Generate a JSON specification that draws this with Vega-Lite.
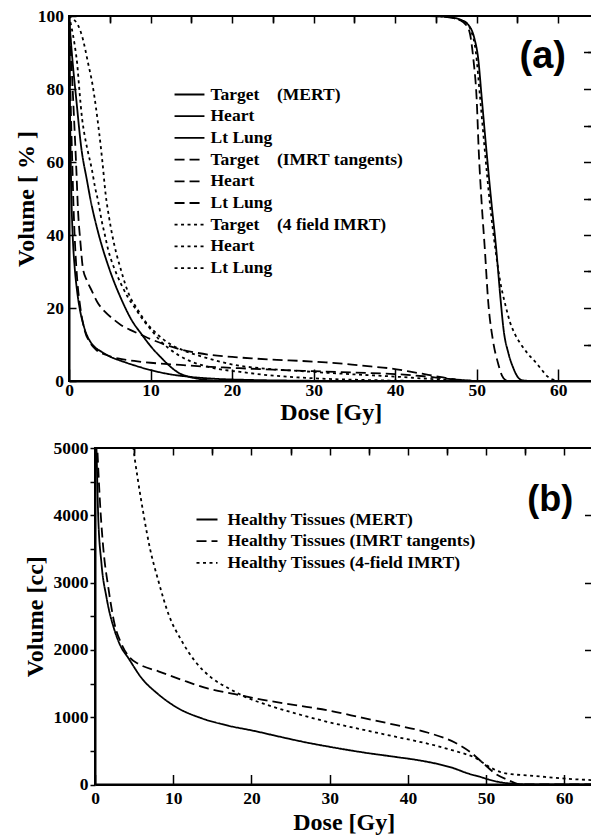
{
  "$schema": "https://vega.github.io/schema/vega-lite/v6.json",
  "background": "white",
  "padding": {"left": 13, "top": 6, "right": 0, "bottom": 0},
  "config": {
    "font": "Liberation Serif",
    "view": {"stroke": "black", "strokeWidth": 2},
    "axis": {
      "labelFont": "Liberation Serif", "labelFontWeight": "bold", "labelFontSize": 17.5, "labelColor": "black",
      "titleFont": "Liberation Serif", "titleFontWeight": "bold", "titleFontSize": 24, "titleColor": "black",
      "domainColor": "black", "domainWidth": 2, "tickColor": "black", "tickWidth": 1.5,
      "grid": false, "labelOverlap": false, "labelFlush": false
    },
    "line": {"color": "black", "strokeWidth": 1.8}
  },
  "spacing": 67,
  "bounds": "flush",
  "resolve": {"scale": {"strokeDash": "independent"}, "legend": {"strokeDash": "independent"}},
  "datasets": {
    "a": [
      {"series":"Target (MERT)","dose":0,"volume":100},{"series":"Target (MERT)","dose":44,"volume":100},{"series":"Target (MERT)","dose":46.5,"volume":99.7},{"series":"Target (MERT)","dose":48,"volume":99},{"series":"Target (MERT)","dose":49,"volume":97.5},{"series":"Target (MERT)","dose":49.7,"volume":94},{"series":"Target (MERT)","dose":50.2,"volume":88},{"series":"Target (MERT)","dose":50.6,"volume":78},{"series":"Target (MERT)","dose":51.2,"volume":63},{"series":"Target (MERT)","dose":51.8,"volume":49},{"series":"Target (MERT)","dose":52.4,"volume":36},{"series":"Target (MERT)","dose":52.9,"volume":23},{"series":"Target (MERT)","dose":53.3,"volume":14},{"series":"Target (MERT)","dose":53.9,"volume":7.5},{"series":"Target (MERT)","dose":54.5,"volume":3.5},{"series":"Target (MERT)","dose":55,"volume":1.2},{"series":"Target (MERT)","dose":55.6,"volume":0.2},{"series":"Target (MERT)","dose":57,"volume":0},{"series":"Target (MERT)","dose":64.2,"volume":0},
      {"series":"Heart (MERT)","dose":0,"volume":100},{"series":"Heart (MERT)","dose":0.05,"volume":90},{"series":"Heart (MERT)","dose":0.12,"volume":75},{"series":"Heart (MERT)","dose":0.2,"volume":62},{"series":"Heart (MERT)","dose":0.3,"volume":50},{"series":"Heart (MERT)","dose":0.45,"volume":40},{"series":"Heart (MERT)","dose":0.7,"volume":31},{"series":"Heart (MERT)","dose":1,"volume":24.5},{"series":"Heart (MERT)","dose":1.3,"volume":20},{"series":"Heart (MERT)","dose":1.7,"volume":16},{"series":"Heart (MERT)","dose":2.15,"volume":12.8},{"series":"Heart (MERT)","dose":2.7,"volume":10.5},{"series":"Heart (MERT)","dose":3.2,"volume":9.2},{"series":"Heart (MERT)","dose":4,"volume":8},{"series":"Heart (MERT)","dose":5.2,"volume":6.5},{"series":"Heart (MERT)","dose":6.4,"volume":5.5},{"series":"Heart (MERT)","dose":8,"volume":4.3},{"series":"Heart (MERT)","dose":10,"volume":3},{"series":"Heart (MERT)","dose":12,"volume":2},{"series":"Heart (MERT)","dose":15,"volume":1.1},{"series":"Heart (MERT)","dose":18,"volume":0.6},{"series":"Heart (MERT)","dose":22,"volume":0.3},{"series":"Heart (MERT)","dose":28,"volume":0.1},{"series":"Heart (MERT)","dose":35,"volume":0},{"series":"Heart (MERT)","dose":64.2,"volume":0},
      {"series":"Lt Lung (MERT)","dose":0,"volume":100},{"series":"Lt Lung (MERT)","dose":0.2,"volume":94},{"series":"Lt Lung (MERT)","dose":0.5,"volume":86},{"series":"Lt Lung (MERT)","dose":0.9,"volume":77},{"series":"Lt Lung (MERT)","dose":1.5,"volume":64},{"series":"Lt Lung (MERT)","dose":2.2,"volume":55},{"series":"Lt Lung (MERT)","dose":2.7,"volume":49},{"series":"Lt Lung (MERT)","dose":3.6,"volume":40.5},{"series":"Lt Lung (MERT)","dose":4.9,"volume":31},{"series":"Lt Lung (MERT)","dose":6.5,"volume":22},{"series":"Lt Lung (MERT)","dose":7.6,"volume":17},{"series":"Lt Lung (MERT)","dose":8.9,"volume":12.8},{"series":"Lt Lung (MERT)","dose":10.1,"volume":9.3},{"series":"Lt Lung (MERT)","dose":11.3,"volume":6.4},{"series":"Lt Lung (MERT)","dose":12.4,"volume":4},{"series":"Lt Lung (MERT)","dose":13.4,"volume":2.3},{"series":"Lt Lung (MERT)","dose":15,"volume":1},{"series":"Lt Lung (MERT)","dose":16.5,"volume":0.4},{"series":"Lt Lung (MERT)","dose":18,"volume":0.1},{"series":"Lt Lung (MERT)","dose":20,"volume":0},{"series":"Lt Lung (MERT)","dose":64.2,"volume":0},
      {"series":"Target (IMRT tangents)","dose":0,"volume":100},{"series":"Target (IMRT tangents)","dose":44,"volume":100},{"series":"Target (IMRT tangents)","dose":46.5,"volume":99.7},{"series":"Target (IMRT tangents)","dose":48,"volume":98.8},{"series":"Target (IMRT tangents)","dose":49,"volume":96.5},{"series":"Target (IMRT tangents)","dose":49.6,"volume":88},{"series":"Target (IMRT tangents)","dose":50,"volume":77},{"series":"Target (IMRT tangents)","dose":50.25,"volume":63},{"series":"Target (IMRT tangents)","dose":50.6,"volume":49},{"series":"Target (IMRT tangents)","dose":51,"volume":36},{"series":"Target (IMRT tangents)","dose":51.4,"volume":22},{"series":"Target (IMRT tangents)","dose":52,"volume":11},{"series":"Target (IMRT tangents)","dose":52.6,"volume":5},{"series":"Target (IMRT tangents)","dose":53.1,"volume":1.5},{"series":"Target (IMRT tangents)","dose":53.6,"volume":0.2},{"series":"Target (IMRT tangents)","dose":54.5,"volume":0},{"series":"Target (IMRT tangents)","dose":64.2,"volume":0},
      {"series":"Heart (IMRT tangents)","dose":0,"volume":100},{"series":"Heart (IMRT tangents)","dose":0.1,"volume":88},{"series":"Heart (IMRT tangents)","dose":0.25,"volume":72},{"series":"Heart (IMRT tangents)","dose":0.4,"volume":60},{"series":"Heart (IMRT tangents)","dose":0.55,"volume":48},{"series":"Heart (IMRT tangents)","dose":0.75,"volume":37},{"series":"Heart (IMRT tangents)","dose":1,"volume":28},{"series":"Heart (IMRT tangents)","dose":1.4,"volume":20},{"series":"Heart (IMRT tangents)","dose":1.9,"volume":14},{"series":"Heart (IMRT tangents)","dose":2.6,"volume":10.5},{"series":"Heart (IMRT tangents)","dose":3.3,"volume":8.6},{"series":"Heart (IMRT tangents)","dose":4.5,"volume":7.2},{"series":"Heart (IMRT tangents)","dose":6,"volume":6.2},{"series":"Heart (IMRT tangents)","dose":8,"volume":5.5},{"series":"Heart (IMRT tangents)","dose":10,"volume":5},{"series":"Heart (IMRT tangents)","dose":13,"volume":4.5},{"series":"Heart (IMRT tangents)","dose":16.3,"volume":4},{"series":"Heart (IMRT tangents)","dose":20,"volume":3.6},{"series":"Heart (IMRT tangents)","dose":25,"volume":3.1},{"series":"Heart (IMRT tangents)","dose":30,"volume":2.7},{"series":"Heart (IMRT tangents)","dose":35,"volume":2.3},{"series":"Heart (IMRT tangents)","dose":40,"volume":1.9},{"series":"Heart (IMRT tangents)","dose":43.5,"volume":1.3},{"series":"Heart (IMRT tangents)","dose":46,"volume":0.7},{"series":"Heart (IMRT tangents)","dose":48,"volume":0.3},{"series":"Heart (IMRT tangents)","dose":50,"volume":0},{"series":"Heart (IMRT tangents)","dose":64.2,"volume":0},
      {"series":"Lt Lung (IMRT tangents)","dose":0,"volume":100},{"series":"Lt Lung (IMRT tangents)","dose":0.2,"volume":92},{"series":"Lt Lung (IMRT tangents)","dose":0.45,"volume":80},{"series":"Lt Lung (IMRT tangents)","dose":0.7,"volume":68},{"series":"Lt Lung (IMRT tangents)","dose":0.9,"volume":58},{"series":"Lt Lung (IMRT tangents)","dose":1.1,"volume":47},{"series":"Lt Lung (IMRT tangents)","dose":1.4,"volume":38},{"series":"Lt Lung (IMRT tangents)","dose":1.7,"volume":31},{"series":"Lt Lung (IMRT tangents)","dose":2.2,"volume":27.5},{"series":"Lt Lung (IMRT tangents)","dose":2.8,"volume":24.7},{"series":"Lt Lung (IMRT tangents)","dose":3.5,"volume":21.5},{"series":"Lt Lung (IMRT tangents)","dose":4.4,"volume":19},{"series":"Lt Lung (IMRT tangents)","dose":5.4,"volume":17},{"series":"Lt Lung (IMRT tangents)","dose":6.4,"volume":15.3},{"series":"Lt Lung (IMRT tangents)","dose":7.5,"volume":14},{"series":"Lt Lung (IMRT tangents)","dose":8.9,"volume":12.6},{"series":"Lt Lung (IMRT tangents)","dose":10.1,"volume":11.4},{"series":"Lt Lung (IMRT tangents)","dose":12,"volume":9.8},{"series":"Lt Lung (IMRT tangents)","dose":13.8,"volume":8.6},{"series":"Lt Lung (IMRT tangents)","dose":15.5,"volume":7.8},{"series":"Lt Lung (IMRT tangents)","dose":17.5,"volume":7.1},{"series":"Lt Lung (IMRT tangents)","dose":20,"volume":6.6},{"series":"Lt Lung (IMRT tangents)","dose":22.4,"volume":6.2},{"series":"Lt Lung (IMRT tangents)","dose":25.5,"volume":5.8},{"series":"Lt Lung (IMRT tangents)","dose":28.5,"volume":5.5},{"series":"Lt Lung (IMRT tangents)","dose":31.5,"volume":5.1},{"series":"Lt Lung (IMRT tangents)","dose":34.7,"volume":4.5},{"series":"Lt Lung (IMRT tangents)","dose":37,"volume":4},{"series":"Lt Lung (IMRT tangents)","dose":39.6,"volume":3.4},{"series":"Lt Lung (IMRT tangents)","dose":41.5,"volume":2.7},{"series":"Lt Lung (IMRT tangents)","dose":43.3,"volume":2},{"series":"Lt Lung (IMRT tangents)","dose":45,"volume":1.3},{"series":"Lt Lung (IMRT tangents)","dose":46.9,"volume":0.6},{"series":"Lt Lung (IMRT tangents)","dose":48.5,"volume":0.2},{"series":"Lt Lung (IMRT tangents)","dose":50,"volume":0},{"series":"Lt Lung (IMRT tangents)","dose":64.2,"volume":0},
      {"series":"Target (4 field IMRT)","dose":0,"volume":100},{"series":"Target (4 field IMRT)","dose":44,"volume":100},{"series":"Target (4 field IMRT)","dose":46,"volume":99.8},{"series":"Target (4 field IMRT)","dose":47.5,"volume":99.2},{"series":"Target (4 field IMRT)","dose":48.5,"volume":98.5},{"series":"Target (4 field IMRT)","dose":49.3,"volume":96},{"series":"Target (4 field IMRT)","dose":49.9,"volume":90},{"series":"Target (4 field IMRT)","dose":50.4,"volume":78},{"series":"Target (4 field IMRT)","dose":51,"volume":63},{"series":"Target (4 field IMRT)","dose":51.6,"volume":49},{"series":"Target (4 field IMRT)","dose":52.3,"volume":36},{"series":"Target (4 field IMRT)","dose":52.9,"volume":27},{"series":"Target (4 field IMRT)","dose":53.5,"volume":21},{"series":"Target (4 field IMRT)","dose":54.1,"volume":16},{"series":"Target (4 field IMRT)","dose":54.7,"volume":12.8},{"series":"Target (4 field IMRT)","dose":55.5,"volume":9.8},{"series":"Target (4 field IMRT)","dose":56.3,"volume":7.4},{"series":"Target (4 field IMRT)","dose":57.2,"volume":5.2},{"series":"Target (4 field IMRT)","dose":58,"volume":3},{"series":"Target (4 field IMRT)","dose":58.7,"volume":1.2},{"series":"Target (4 field IMRT)","dose":59.5,"volume":0.3},{"series":"Target (4 field IMRT)","dose":60.5,"volume":0},{"series":"Target (4 field IMRT)","dose":64.2,"volume":0},
      {"series":"Heart (4 field IMRT)","dose":0,"volume":100},{"series":"Heart (4 field IMRT)","dose":0.3,"volume":97},{"series":"Heart (4 field IMRT)","dose":0.7,"volume":92},{"series":"Heart (4 field IMRT)","dose":1,"volume":87},{"series":"Heart (4 field IMRT)","dose":1.3,"volume":79},{"series":"Heart (4 field IMRT)","dose":1.6,"volume":72},{"series":"Heart (4 field IMRT)","dose":1.9,"volume":67.5},{"series":"Heart (4 field IMRT)","dose":2.3,"volume":63},{"series":"Heart (4 field IMRT)","dose":2.8,"volume":58},{"series":"Heart (4 field IMRT)","dose":3.2,"volume":53},{"series":"Heart (4 field IMRT)","dose":3.6,"volume":49},{"series":"Heart (4 field IMRT)","dose":4,"volume":44},{"series":"Heart (4 field IMRT)","dose":4.4,"volume":40},{"series":"Heart (4 field IMRT)","dose":4.8,"volume":36},{"series":"Heart (4 field IMRT)","dose":5.2,"volume":33},{"series":"Heart (4 field IMRT)","dose":5.8,"volume":29.5},{"series":"Heart (4 field IMRT)","dose":6.4,"volume":26.5},{"series":"Heart (4 field IMRT)","dose":7.2,"volume":23},{"series":"Heart (4 field IMRT)","dose":8.1,"volume":20},{"series":"Heart (4 field IMRT)","dose":9,"volume":17},{"series":"Heart (4 field IMRT)","dose":9.9,"volume":14.5},{"series":"Heart (4 field IMRT)","dose":11,"volume":11.5},{"series":"Heart (4 field IMRT)","dose":12.2,"volume":9},{"series":"Heart (4 field IMRT)","dose":13.5,"volume":7},{"series":"Heart (4 field IMRT)","dose":15,"volume":5.3},{"series":"Heart (4 field IMRT)","dose":16.5,"volume":4.2},{"series":"Heart (4 field IMRT)","dose":18,"volume":3.4},{"series":"Heart (4 field IMRT)","dose":21,"volume":2.5},{"series":"Heart (4 field IMRT)","dose":24.4,"volume":1.6},{"series":"Heart (4 field IMRT)","dose":28,"volume":1},{"series":"Heart (4 field IMRT)","dose":32.6,"volume":0.5},{"series":"Heart (4 field IMRT)","dose":36,"volume":0.3},{"series":"Heart (4 field IMRT)","dose":40,"volume":0.1},{"series":"Heart (4 field IMRT)","dose":45,"volume":0},{"series":"Heart (4 field IMRT)","dose":64.2,"volume":0},
      {"series":"Lt Lung (4 field IMRT)","dose":0,"volume":100},{"series":"Lt Lung (4 field IMRT)","dose":0.5,"volume":99.2},{"series":"Lt Lung (4 field IMRT)","dose":1.1,"volume":97.5},{"series":"Lt Lung (4 field IMRT)","dose":1.6,"volume":94.5},{"series":"Lt Lung (4 field IMRT)","dose":2.35,"volume":87},{"series":"Lt Lung (4 field IMRT)","dose":2.9,"volume":81},{"series":"Lt Lung (4 field IMRT)","dose":3.3,"volume":75},{"series":"Lt Lung (4 field IMRT)","dose":3.7,"volume":68},{"series":"Lt Lung (4 field IMRT)","dose":4.1,"volume":60},{"series":"Lt Lung (4 field IMRT)","dose":4.5,"volume":51},{"series":"Lt Lung (4 field IMRT)","dose":4.9,"volume":45},{"series":"Lt Lung (4 field IMRT)","dose":5.3,"volume":40},{"series":"Lt Lung (4 field IMRT)","dose":5.8,"volume":35},{"series":"Lt Lung (4 field IMRT)","dose":6.3,"volume":31},{"series":"Lt Lung (4 field IMRT)","dose":6.9,"volume":26.5},{"series":"Lt Lung (4 field IMRT)","dose":7.5,"volume":23},{"series":"Lt Lung (4 field IMRT)","dose":8.3,"volume":20},{"series":"Lt Lung (4 field IMRT)","dose":9.3,"volume":16.5},{"series":"Lt Lung (4 field IMRT)","dose":10.5,"volume":13.5},{"series":"Lt Lung (4 field IMRT)","dose":12.2,"volume":10.4},{"series":"Lt Lung (4 field IMRT)","dose":14,"volume":8.4},{"series":"Lt Lung (4 field IMRT)","dose":16.3,"volume":6.7},{"series":"Lt Lung (4 field IMRT)","dose":18.5,"volume":5.3},{"series":"Lt Lung (4 field IMRT)","dose":20.3,"volume":4.4},{"series":"Lt Lung (4 field IMRT)","dose":24,"volume":3.4},{"series":"Lt Lung (4 field IMRT)","dose":28.5,"volume":2.7},{"series":"Lt Lung (4 field IMRT)","dose":32,"volume":2.2},{"series":"Lt Lung (4 field IMRT)","dose":36.7,"volume":1.6},{"series":"Lt Lung (4 field IMRT)","dose":40,"volume":1.2},{"series":"Lt Lung (4 field IMRT)","dose":44.9,"volume":0.5},{"series":"Lt Lung (4 field IMRT)","dose":48,"volume":0.2},{"series":"Lt Lung (4 field IMRT)","dose":50,"volume":0},{"series":"Lt Lung (4 field IMRT)","dose":64.2,"volume":0}
    ],
    "b": [
      {"plan":"Healthy Tissues (MERT)","dose":0.05,"volume":5600},{"plan":"Healthy Tissues (MERT)","dose":0.2,"volume":4950},{"plan":"Healthy Tissues (MERT)","dose":0.4,"volume":4020},{"plan":"Healthy Tissues (MERT)","dose":0.83,"volume":3280},{"plan":"Healthy Tissues (MERT)","dose":1.47,"volume":2780},{"plan":"Healthy Tissues (MERT)","dose":2.5,"volume":2290},{"plan":"Healthy Tissues (MERT)","dose":3.3,"volume":2050},{"plan":"Healthy Tissues (MERT)","dose":4.2,"volume":1890},{"plan":"Healthy Tissues (MERT)","dose":5.9,"volume":1590},{"plan":"Healthy Tissues (MERT)","dose":8.1,"volume":1340},{"plan":"Healthy Tissues (MERT)","dose":10.6,"volume":1135},{"plan":"Healthy Tissues (MERT)","dose":13.6,"volume":985},{"plan":"Healthy Tissues (MERT)","dose":17,"volume":875},{"plan":"Healthy Tissues (MERT)","dose":20.4,"volume":795},{"plan":"Healthy Tissues (MERT)","dose":24,"volume":700},{"plan":"Healthy Tissues (MERT)","dose":27,"volume":625},{"plan":"Healthy Tissues (MERT)","dose":30,"volume":560},{"plan":"Healthy Tissues (MERT)","dose":34.1,"volume":480},{"plan":"Healthy Tissues (MERT)","dose":38.4,"volume":410},{"plan":"Healthy Tissues (MERT)","dose":41.4,"volume":360},{"plan":"Healthy Tissues (MERT)","dose":44,"volume":300},{"plan":"Healthy Tissues (MERT)","dose":45.5,"volume":255},{"plan":"Healthy Tissues (MERT)","dose":47.8,"volume":160},{"plan":"Healthy Tissues (MERT)","dose":49.2,"volume":115},{"plan":"Healthy Tissues (MERT)","dose":50.3,"volume":75},{"plan":"Healthy Tissues (MERT)","dose":52,"volume":30},{"plan":"Healthy Tissues (MERT)","dose":54,"volume":8},{"plan":"Healthy Tissues (MERT)","dose":56,"volume":0},{"plan":"Healthy Tissues (MERT)","dose":63.6,"volume":0},
      {"plan":"Healthy Tissues (IMRT tangents)","dose":0.1,"volume":5600},{"plan":"Healthy Tissues (IMRT tangents)","dose":0.3,"volume":5000},{"plan":"Healthy Tissues (IMRT tangents)","dose":0.6,"volume":4270},{"plan":"Healthy Tissues (IMRT tangents)","dose":1.05,"volume":3525},{"plan":"Healthy Tissues (IMRT tangents)","dose":1.7,"volume":2930},{"plan":"Healthy Tissues (IMRT tangents)","dose":2.5,"volume":2384},{"plan":"Healthy Tissues (IMRT tangents)","dose":3.4,"volume":2085},{"plan":"Healthy Tissues (IMRT tangents)","dose":4.45,"volume":1885},{"plan":"Healthy Tissues (IMRT tangents)","dose":5.7,"volume":1784},{"plan":"Healthy Tissues (IMRT tangents)","dose":8.1,"volume":1682},{"plan":"Healthy Tissues (IMRT tangents)","dose":11.1,"volume":1554},{"plan":"Healthy Tissues (IMRT tangents)","dose":14.5,"volume":1423},{"plan":"Healthy Tissues (IMRT tangents)","dose":17.9,"volume":1342},{"plan":"Healthy Tissues (IMRT tangents)","dose":21.3,"volume":1262},{"plan":"Healthy Tissues (IMRT tangents)","dose":25.6,"volume":1180},{"plan":"Healthy Tissues (IMRT tangents)","dose":29.9,"volume":1098},{"plan":"Healthy Tissues (IMRT tangents)","dose":34.1,"volume":993},{"plan":"Healthy Tissues (IMRT tangents)","dose":38.4,"volume":885},{"plan":"Healthy Tissues (IMRT tangents)","dose":42.6,"volume":769},{"plan":"Healthy Tissues (IMRT tangents)","dose":46,"volume":624},{"plan":"Healthy Tissues (IMRT tangents)","dose":48.1,"volume":472},{"plan":"Healthy Tissues (IMRT tangents)","dose":49.6,"volume":320},{"plan":"Healthy Tissues (IMRT tangents)","dose":51.1,"volume":168},{"plan":"Healthy Tissues (IMRT tangents)","dose":52.8,"volume":67},{"plan":"Healthy Tissues (IMRT tangents)","dose":54,"volume":10},{"plan":"Healthy Tissues (IMRT tangents)","dose":55,"volume":0},{"plan":"Healthy Tissues (IMRT tangents)","dose":63.6,"volume":0},
      {"plan":"Healthy Tissues (4-field IMRT)","dose":4.5,"volume":5500},{"plan":"Healthy Tissues (4-field IMRT)","dose":4.9,"volume":5015},{"plan":"Healthy Tissues (4-field IMRT)","dose":5.5,"volume":4515},{"plan":"Healthy Tissues (4-field IMRT)","dose":6.2,"volume":4019},{"plan":"Healthy Tissues (4-field IMRT)","dose":7,"volume":3522},{"plan":"Healthy Tissues (4-field IMRT)","dose":8.1,"volume":3027},{"plan":"Healthy Tissues (4-field IMRT)","dose":9.4,"volume":2530},{"plan":"Healthy Tissues (4-field IMRT)","dose":11.1,"volume":2130},{"plan":"Healthy Tissues (4-field IMRT)","dose":12.8,"volume":1830},{"plan":"Healthy Tissues (4-field IMRT)","dose":14.9,"volume":1585},{"plan":"Healthy Tissues (4-field IMRT)","dose":17,"volume":1434},{"plan":"Healthy Tissues (4-field IMRT)","dose":19.6,"volume":1283},{"plan":"Healthy Tissues (4-field IMRT)","dose":22.1,"volume":1180},{"plan":"Healthy Tissues (4-field IMRT)","dose":25.6,"volume":1057},{"plan":"Healthy Tissues (4-field IMRT)","dose":29.9,"volume":926},{"plan":"Healthy Tissues (4-field IMRT)","dose":34.1,"volume":818},{"plan":"Healthy Tissues (4-field IMRT)","dose":38.4,"volume":710},{"plan":"Healthy Tissues (4-field IMRT)","dose":42.6,"volume":605},{"plan":"Healthy Tissues (4-field IMRT)","dose":46,"volume":498},{"plan":"Healthy Tissues (4-field IMRT)","dose":48.6,"volume":396},{"plan":"Healthy Tissues (4-field IMRT)","dose":50.3,"volume":269},{"plan":"Healthy Tissues (4-field IMRT)","dose":52,"volume":178},{"plan":"Healthy Tissues (4-field IMRT)","dose":53.5,"volume":150},{"plan":"Healthy Tissues (4-field IMRT)","dose":55.4,"volume":135},{"plan":"Healthy Tissues (4-field IMRT)","dose":59.7,"volume":90},{"plan":"Healthy Tissues (4-field IMRT)","dose":63.6,"volume":65}
    ]
  },
  "vconcat": [
    {
      "width": 523.5,
      "height": 365,
      "layer": [
        {
          "data": {"name": "a"},
          "mark": {"type": "line", "interpolate": "monotone", "clip": true, "color": "black", "strokeWidth": 1.8},
          "encoding": {
            "x": {"field": "dose", "type": "quantitative", "scale": {"domain": [0, 64.2], "nice": false, "zero": false},
                  "axis": {"title": "Dose [Gy]", "values": [0,10,20,30,40,50,60], "format": "d", "tickSize": -12, "labelPadding": 12, "titleY": 31.5, "titleBaseline": "middle"}},
            "y": {"field": "volume", "type": "quantitative", "scale": {"domain": [0, 100], "nice": false},
                  "axis": {"title": "Volume [ % ]", "values": [0,20,40,60,80,100], "format": "d", "tickSize": -7, "labelPadding": 12.5, "titleX": -42.5, "titleBaseline": "middle"}},
            "strokeDash": {"field": "series", "type": "nominal",
              "scale": {"domain": ["Target (MERT)","Heart (MERT)","Lt Lung (MERT)","Target (IMRT tangents)","Heart (IMRT tangents)","Lt Lung (IMRT tangents)","Target (4 field IMRT)","Heart (4 field IMRT)","Lt Lung (4 field IMRT)"],
                        "range": [[1,0],[1,0],[1,0],[10,5],[10,5],[10,5],[3,3.5],[3,3.5],[3,3.5]]},
              "legend": {"orient": "none", "legendX": 111, "legendY": 69, "title": null, "padding": 0,
                         "symbolType": "M-1.76,0H1.76", "symbolSize": 289, "symbolStrokeWidth": 2, "symbolStrokeColor": "black",
                         "labelFont": "Liberation Serif", "labelFontWeight": "bold", "labelFontSize": 17.5, "labelColor": "black",
                         "labelOffset": 11.5, "rowPadding": 3.7, "labelLimit": 400,
                         "labelExpr": "indexof(datum.label, 'Target') == 0 ? replace(datum.label, ' (', '\u00a0\u00a0\u00a0\u00a0(') : split(datum.label, ' (')[0]"}}
          }
        },
        {
          "data": {"values": [{"t": "(a)"}]},
          "mark": {"type": "text", "font": "Liberation Sans", "fontWeight": "bold", "fontSize": 38, "align": "center", "baseline": "middle", "color": "black"},
          "encoding": {
            "x": {"datum": 58.1, "type": "quantitative", "axis": {"values": [5,15,25,35,45,55], "tickSize": -6, "labels": false, "domain": false, "title": null}},
            "y": {"datum": 88.8, "type": "quantitative", "axis": {"values": [10,30,50,70,90], "tickSize": -5, "labels": false, "domain": false, "title": null}},
            "text": {"field": "t"}
          }
        },
        {
          "data": {"values": [{"t": ""}]},
          "mark": {"type": "text"},
          "encoding": {
            "x": {"datum": 1, "type": "quantitative", "axis": {"orient": "top", "values": [5,10,15,20,25,30,35,40,45,50,55,60], "tickSize": -7, "labels": false, "domain": false, "title": null}},
            "y": {"datum": 1, "type": "quantitative", "axis": {"orient": "right", "values": [10,20,30,40,50,60,70,80,90], "tickSize": -9, "labels": false, "domain": false, "title": null}},
            "text": {"field": "t"}
          }
        }
      ],
      "resolve": {"axis": {"x": "independent", "y": "independent"}}
    },
    {
      "spacing": 0,
      "bounds": "flush",
      "hconcat": [
        {
          "width": 26,
          "height": 10,
          "view": {"stroke": null},
          "data": {"values": [{"t": 0}]},
          "mark": {"type": "point", "opacity": 0},
          "encoding": {}
        },
        {
          "width": 497.5,
          "height": 336.5,
          "layer": [
            {
              "data": {"name": "b"},
              "mark": {"type": "line", "interpolate": "monotone", "clip": true, "color": "black", "strokeWidth": 1.8},
              "encoding": {
                "x": {"field": "dose", "type": "quantitative", "scale": {"domain": [0, 63.6], "nice": false, "zero": false},
                      "axis": {"title": "Dose [Gy]", "values": [0,10,20,30,40,50,60], "format": "d", "tickSize": -10, "labelPadding": 14.5, "titleY": 37.5, "titleBaseline": "middle"}},
                "y": {"field": "volume", "type": "quantitative", "scale": {"domain": [0, 5000], "nice": false},
                      "axis": {"title": "Volume [cc]", "values": [0,500,1000,1500,2000,2500,3000,3500,4000,4500,5000], "format": "d", "labelExpr": "datum.value % 1000 == 0 ? datum.label : ''", "tickSize": 5, "labelPadding": 2, "titleX": -59.5, "titleBaseline": "middle"}},
                "strokeDash": {"field": "plan", "type": "nominal",
                  "scale": {"domain": ["Healthy Tissues (MERT)","Healthy Tissues (IMRT tangents)","Healthy Tissues (4-field IMRT)"],
                            "range": [[1,0],[10,5],[3,3.5]]},
                  "legend": {"orient": "none", "legendX": 128.5, "legendY": 62, "title": null, "padding": 0,
                             "symbolType": "M-1.235,0H1.235", "symbolSize": 289, "symbolStrokeWidth": 2, "symbolStrokeColor": "black",
                             "labelFont": "Liberation Serif", "labelFontWeight": "bold", "labelFontSize": 17.5, "labelColor": "black",
                             "labelOffset": 11, "rowPadding": 3.7, "labelLimit": 400}}
              }
            },
            {
              "data": {"values": [{"t": "(b)"}]},
              "mark": {"type": "text", "font": "Liberation Sans", "fontWeight": "bold", "fontSize": 36, "align": "center", "baseline": "middle", "color": "black"},
              "encoding": {
                "x": {"datum": 58.2, "type": "quantitative", "axis": {"values": [5,15,25,35,45,55], "tickSize": -5, "labels": false, "domain": false, "title": null}},
                "y": {"datum": 4220, "type": "quantitative", "axis": {"orient": "right", "values": [1000,2000,3000,4000], "tickSize": -8, "labels": false, "domain": false, "title": null}},
                "text": {"field": "t"}
              }
            },
            {
              "data": {"values": [{"t": ""}]},
              "mark": {"type": "text"},
              "encoding": {
                "x": {"datum": 1, "type": "quantitative", "axis": {"orient": "top", "values": [5,10,15,20,25,30,35,40,45,50,55,60], "tickSize": -7, "labels": false, "domain": false, "title": null}},
                "y": {"datum": 1, "type": "quantitative", "axis": null},
                "text": {"field": "t"}
              }
            }
          ],
          "resolve": {"axis": {"x": "independent", "y": "independent"}}
        }
      ]
    }
  ]
}
